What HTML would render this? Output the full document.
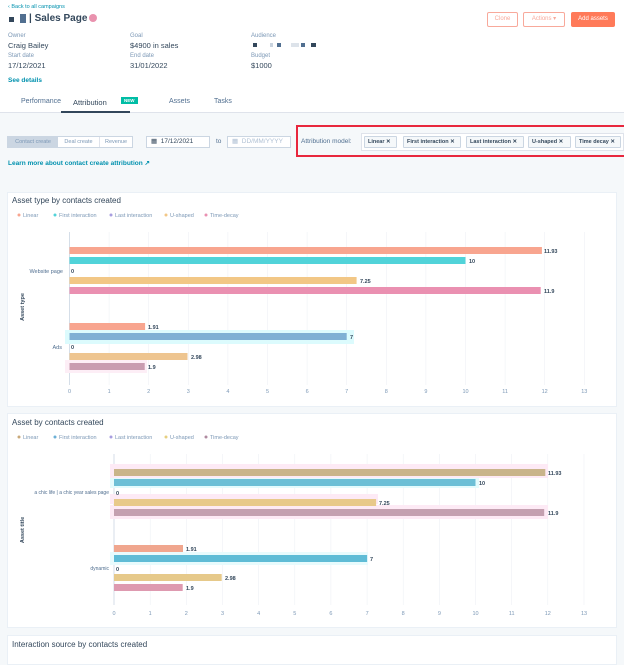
<!DOCTYPE html>
<html><head><meta charset="utf-8"><style>
*{margin:0;padding:0;box-sizing:border-box}
body{width:624px;height:653px;overflow:hidden;background:#f5f8fa;font-family:"Liberation Sans",sans-serif;color:#33475b;position:relative}
.a{position:absolute;white-space:nowrap}
.hdr{position:absolute;left:0;top:0;width:624px;height:113px;background:#fff;border-bottom:1px solid #dfe3eb}
.lbl{font-size:6px;color:#7c98b6}
.val{font-size:7.5px;color:#33475b}
.btn{position:absolute;font-size:6px;text-align:center;border-radius:2px}
.card{position:absolute;background:#fff;border:1px solid #eaf0f6}
.tag{position:absolute;top:136px;height:12px;border:1px solid #cbd6e2;background:#f5f8fa;font-size:5.5px;font-weight:bold;line-height:10px;padding-left:3px;border-radius:1px}
.tab{font-size:7px}
</style></head><body>
<div class="hdr"></div>
<div class="a" style="left:8px;top:4px;font-size:5.5px;color:#0091ae">‹ Back to all campaigns</div>
<div class="a" style="left:9px;top:17px;width:5px;height:5px;background:#33475b"></div>
<div class="a" style="left:20px;top:14px;width:6px;height:9px;background:#516f90"></div>
<div class="a" style="left:29px;top:13px;font-size:10px;font-weight:bold;color:#33475b">| Sales Page</div>
<div class="a" style="left:89px;top:14px;width:8px;height:8px;border-radius:50%;background:#e992ae"></div>
<div class="btn" style="left:487px;top:12px;width:31px;height:15px;border:1px solid #f8a99b;color:#f8a99b;line-height:13px">Clone</div>
<div class="btn" style="left:523px;top:12px;width:42px;height:15px;border:1px solid #f8a99b;color:#f8a99b;line-height:13px">Actions ▾</div>
<div class="btn" style="left:571px;top:12px;width:44px;height:15px;background:#ff7a59;color:#fff;line-height:15px">Add assets</div>
<div class="a lbl" style="left:8px;top:33px">Owner</div><div class="a val" style="left:8px;top:41px">Craig Bailey</div>
<div class="a lbl" style="left:8px;top:53px">Start date</div><div class="a val" style="left:8px;top:61px">17/12/2021</div>
<div class="a lbl" style="left:130px;top:33px">Goal</div><div class="a val" style="left:130px;top:41px">$4900 in sales</div>
<div class="a lbl" style="left:130px;top:53px">End date</div><div class="a val" style="left:130px;top:61px">31/01/2022</div>
<div class="a lbl" style="left:251px;top:33px">Audience</div>
<div class="a" style="left:253px;top:43px;width:4px;height:4px;background:#33475b"></div>
<div class="a" style="left:270px;top:43px;width:3px;height:4px;background:#c9d3de"></div>
<div class="a" style="left:277px;top:43px;width:4px;height:4px;background:#516f90"></div>
<div class="a" style="left:291px;top:43px;width:8px;height:4px;background:#dde3ea"></div>
<div class="a" style="left:301px;top:43px;width:4px;height:4px;background:#516f90"></div>
<div class="a" style="left:311px;top:43px;width:5px;height:4px;background:#33475b"></div>
<div class="a lbl" style="left:251px;top:53px">Budget</div><div class="a val" style="left:251px;top:61px">$1000</div>
<div class="a" style="left:8px;top:77px;font-size:6.5px;font-weight:bold;color:#0091ae">See details</div>
<div class="a tab" style="left:21px;top:98px;color:#516f90">Performance</div>
<div class="a tab" style="left:73px;top:98px;color:#33475b;font-size:7.5px">Attribution</div>
<div class="a" style="left:121px;top:97px;font-size:4.5px;font-weight:bold;background:#00bda5;color:#fff;padding:1px 3px">NEW</div>
<div class="a" style="left:61px;top:111px;width:69px;height:2px;background:#33475b"></div>
<div class="a tab" style="left:169px;top:98px;color:#516f90">Assets</div>
<div class="a tab" style="left:214px;top:98px;color:#516f90">Tasks</div>
<div class="a" style="left:7px;top:136px;width:126px;height:12px;border:1px solid #cbd6e2;background:#fff;font-size:5.5px;color:#7c98b6;line-height:10px;display:flex">
<div style="width:50px;background:#cbd6e2;text-align:center">Contact create</div><div style="width:42px;text-align:center;border-right:1px solid #dfe3eb">Deal create</div><div style="flex:1;text-align:center">Revenue</div></div>
<div class="a" style="left:146px;top:136px;width:64px;height:12px;border:1px solid #cbd6e2;background:#fff;font-size:6.5px;line-height:10px;padding-left:4px">▦ &nbsp;17/12/2021</div>
<div class="a" style="left:216px;top:138px;font-size:6.5px;color:#516f90">to</div>
<div class="a" style="left:227px;top:136px;width:64px;height:12px;border:1px solid #cbd6e2;background:#fff;font-size:6.5px;line-height:10px;padding-left:4px;color:#b0c1d4">▦ &nbsp;DD/MM/YYYY</div>
<div class="a" style="left:296px;top:125px;width:330px;height:32px;border:2px solid #e8273d"></div>
<div class="a" style="left:301px;top:138px;font-size:6.5px;color:#516f90">Attribution model:</div>
<div class="a" style="left:361px;top:133px;width:263px;height:18px;border:1px solid #dfe3eb;background:#fff"></div>
<div class="tag" style="left:364px;width:33px">Linear ✕</div>
<div class="tag" style="left:403px;width:58px">First interaction ✕</div>
<div class="tag" style="left:466px;width:58px">Last interaction ✕</div>
<div class="tag" style="left:528px;width:43px">U-shaped ✕</div>
<div class="tag" style="left:575px;width:46px">Time decay ✕</div>
<div class="a" style="left:8px;top:159px;font-size:6.5px;font-weight:bold;color:#0091ae">Learn more about contact create attribution ↗</div>

<div class="card" style="left:7px;top:192px;width:610px;height:215px"></div>
<div class="card" style="left:7px;top:413px;width:610px;height:215px"></div>
<div class="card" style="left:7px;top:635px;width:610px;height:30px"></div>
<div class="a" style="left:12px;top:196px;font-size:8px;color:#33475b">Asset type by contacts created</div>
<div class="a" style="left:12px;top:418px;font-size:8px;color:#33475b">Asset by contacts created</div>
<div class="a" style="left:12px;top:640px;font-size:8px;color:#33475b">Interaction source by contacts created</div>

<svg class="a" style="left:0;top:0" width="624" height="653" font-family="Liberation Sans, sans-serif">
<g font-size="5.5" fill="#7c98b6">
<circle cx="19" cy="215" r="1.5" fill="#f8a58f"/><text x="23" y="217">Linear</text>
<circle cx="55" cy="215" r="1.5" fill="#51d3d9"/><text x="59" y="217">First interaction</text>
<circle cx="111" cy="215" r="1.5" fill="#a89ee0"/><text x="115" y="217">Last interaction</text>
<circle cx="166" cy="215" r="1.5" fill="#f2c786"/><text x="170" y="217">U-shaped</text>
<circle cx="206" cy="215" r="1.5" fill="#ea90b1"/><text x="210" y="217">Time-decay</text>
<circle cx="19" cy="437" r="1.5" fill="#c9a97a"/><text x="23" y="439">Linear</text>
<circle cx="55" cy="437" r="1.5" fill="#6cb0d6"/><text x="59" y="439">First interaction</text>
<circle cx="111" cy="437" r="1.5" fill="#a89ee0"/><text x="115" y="439">Last interaction</text>
<circle cx="166" cy="437" r="1.5" fill="#e6cf80"/><text x="170" y="439">U-shaped</text>
<circle cx="206" cy="437" r="1.5" fill="#b08aa0"/><text x="210" y="439">Time-decay</text>
</g>
<g stroke="#eef1f5" stroke-width="0.6">
<line x1="109.1" y1="232" x2="109.1" y2="385"/><line x1="148.7" y1="232" x2="148.7" y2="385"/><line x1="188.3" y1="232" x2="188.3" y2="385"/><line x1="227.9" y1="232" x2="227.9" y2="385"/><line x1="267.5" y1="232" x2="267.5" y2="385"/><line x1="307.1" y1="232" x2="307.1" y2="385"/><line x1="346.7" y1="232" x2="346.7" y2="385"/><line x1="386.3" y1="232" x2="386.3" y2="385"/><line x1="425.9" y1="232" x2="425.9" y2="385"/><line x1="465.5" y1="232" x2="465.5" y2="385"/><line x1="505.1" y1="232" x2="505.1" y2="385"/><line x1="544.7" y1="232" x2="544.7" y2="385"/><line x1="584.3" y1="232" x2="584.3" y2="385"/>
</g>
<line x1="69.5" y1="232" x2="69.5" y2="385" stroke="#cbd6e2" stroke-width="0.8"/>
<rect x="69.5" y="247" width="472.4" height="7" fill="#f8a58f"/>
<rect x="69.5" y="257" width="396" height="7" fill="#51d3d9"/>
<rect x="69.5" y="277" width="287.1" height="7" fill="#f2c786"/>
<rect x="69.5" y="287" width="471.2" height="7" fill="#ea90b1"/>
<rect x="65" y="330" width="289" height="14" fill="#dcfbfd"/>
<rect x="65" y="360" width="82" height="13" fill="#fdeef6"/>
<rect x="69.5" y="323" width="75.6" height="7" fill="#f8a58f"/>
<rect x="69.5" y="333" width="277.2" height="7" fill="#7fb0d4"/>
<rect x="69.5" y="353" width="118" height="7" fill="#eec590"/>
<rect x="69.5" y="363" width="75.2" height="7" fill="#c99cb0"/>
<g font-size="5.5" font-weight="bold" fill="#33475b">
<text x="544" y="253">11.93</text><text x="469" y="263">10</text><text x="71" y="273">0</text><text x="360" y="283">7.25</text><text x="544" y="293">11.9</text>
<text x="148" y="329">1.91</text><text x="350" y="339">7</text><text x="71" y="349">0</text><text x="191" y="359">2.98</text><text x="148" y="369">1.9</text>
</g>
<g font-size="5.5" fill="#516f90" text-anchor="end"><text x="63" y="273">Website page</text><text x="62" y="349">Ads</text></g>
<text transform="translate(24,307) rotate(-90)" font-size="5.5" font-weight="bold" fill="#33475b" text-anchor="middle">Asset type</text>
<g font-size="5.5" fill="#7c98b6" text-anchor="middle">
<text x="69.5" y="393">0</text><text x="109.1" y="393">1</text><text x="148.7" y="393">2</text><text x="188.3" y="393">3</text><text x="227.9" y="393">4</text><text x="267.5" y="393">5</text><text x="307.1" y="393">6</text><text x="346.7" y="393">7</text><text x="386.3" y="393">8</text><text x="425.9" y="393">9</text><text x="465.5" y="393">10</text><text x="505.1" y="393">11</text><text x="544.7" y="393">12</text><text x="584.3" y="393">13</text>
</g>
<g stroke="#eef1f5" stroke-width="0.6">
<line x1="150.2" y1="454" x2="150.2" y2="605"/><line x1="186.3" y1="454" x2="186.3" y2="605"/><line x1="222.5" y1="454" x2="222.5" y2="605"/><line x1="258.6" y1="454" x2="258.6" y2="605"/><line x1="294.8" y1="454" x2="294.8" y2="605"/><line x1="330.9" y1="454" x2="330.9" y2="605"/><line x1="367.1" y1="454" x2="367.1" y2="605"/><line x1="403.2" y1="454" x2="403.2" y2="605"/><line x1="439.4" y1="454" x2="439.4" y2="605"/><line x1="475.5" y1="454" x2="475.5" y2="605"/><line x1="511.7" y1="454" x2="511.7" y2="605"/><line x1="547.8" y1="454" x2="547.8" y2="605"/><line x1="584" y1="454" x2="584" y2="605"/>
</g>
<line x1="114" y1="454" x2="114" y2="605" stroke="#cbd6e2" stroke-width="0.8"/>
<rect x="110" y="464" width="438" height="14" fill="#fdeaf5"/>
<rect x="110" y="494" width="268" height="10" fill="#fdeaf5"/>
<rect x="110" y="505" width="438" height="14" fill="#fdeaf5"/>
<rect x="110" y="478" width="369" height="10" fill="#e4fbfd"/>
<rect x="110" y="552" width="258" height="13" fill="#e8fbfd"/>
<rect x="114" y="469" width="431.3" height="7" fill="#c9b48a"/>
<rect x="114" y="479" width="361.5" height="7" fill="#6cbfd6"/>
<rect x="114" y="499" width="262.1" height="7" fill="#e8c98a"/>
<rect x="114" y="509" width="430.2" height="7" fill="#c4a0b0"/>
<rect x="114" y="545" width="69" height="7" fill="#f0a68e"/>
<rect x="114" y="555" width="253.1" height="7" fill="#5fbcd6"/>
<rect x="114" y="574" width="107.7" height="7" fill="#e6c98a"/>
<rect x="114" y="584" width="68.7" height="7" fill="#de9ab0"/>
<g font-size="5.5" font-weight="bold" fill="#33475b">
<text x="548" y="475">11.93</text><text x="479" y="485">10</text><text x="116" y="495">0</text><text x="379" y="505">7.25</text><text x="548" y="515">11.9</text>
<text x="186" y="551">1.91</text><text x="370" y="561">7</text><text x="116" y="571">0</text><text x="225" y="580">2.98</text><text x="186" y="590">1.9</text>
</g>
<g font-size="5" fill="#516f90" text-anchor="end"><text x="109" y="494">a chic life | a chic year sales page</text><text x="109" y="570">dynamic</text></g>
<text transform="translate(24,530) rotate(-90)" font-size="5.5" font-weight="bold" fill="#33475b" text-anchor="middle">Asset title</text>
<g font-size="5.5" fill="#7c98b6" text-anchor="middle">
<text x="114" y="615">0</text><text x="150.2" y="615">1</text><text x="186.3" y="615">2</text><text x="222.5" y="615">3</text><text x="258.6" y="615">4</text><text x="294.8" y="615">5</text><text x="330.9" y="615">6</text><text x="367.1" y="615">7</text><text x="403.2" y="615">8</text><text x="439.4" y="615">9</text><text x="475.5" y="615">10</text><text x="511.7" y="615">11</text><text x="547.8" y="615">12</text><text x="584" y="615">13</text>
</g>
</svg>
</body></html>
